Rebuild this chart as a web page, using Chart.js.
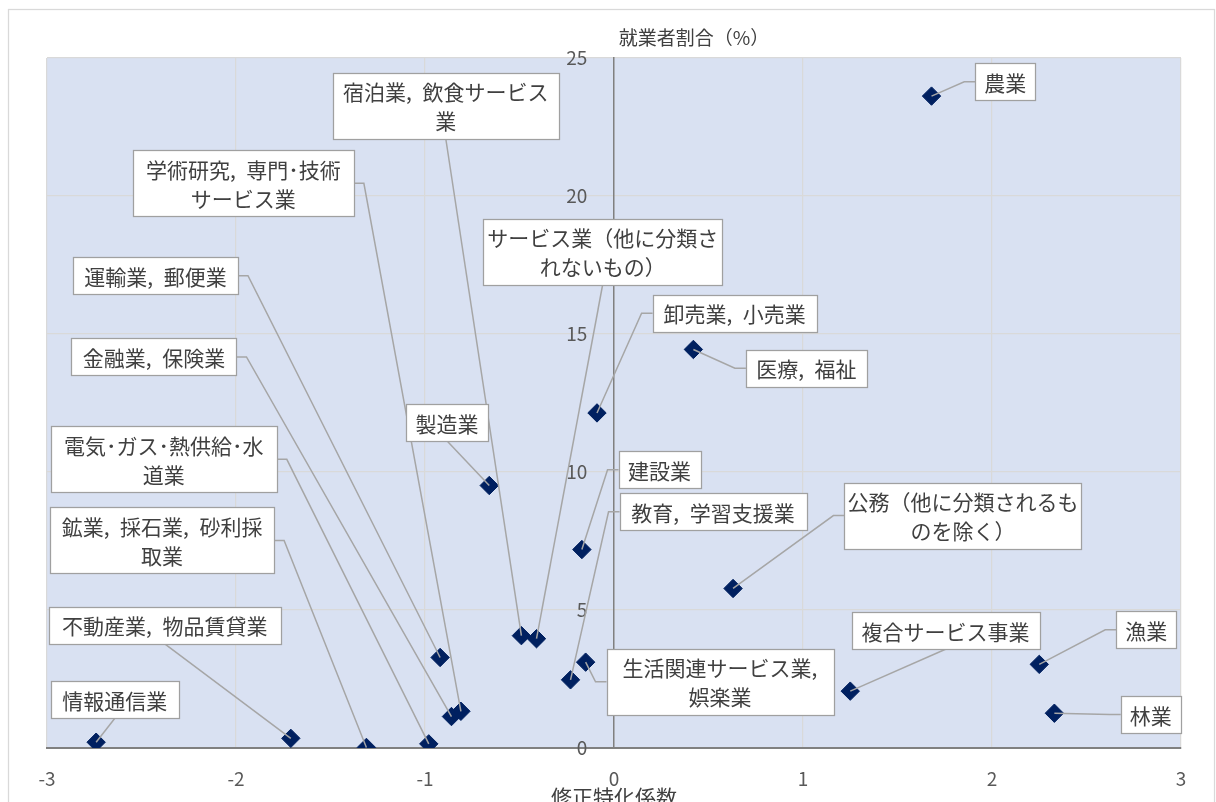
<!DOCTYPE html>
<html lang="ja">
<head>
<meta charset="utf-8">
<title>修正特化係数と就業者割合</title>
<script src="https://cdn.jsdelivr.net/npm/chart.js@4"></script>
<style>
  html, body { margin: 0; padding: 0; background: #fff; overflow: hidden; }
  canvas { display: block; }
</style>
</head>
<body>
<canvas id="chart" width="1216" height="808"></canvas>
<script>
// 産業別：修正特化係数（横軸）と就業者割合（縦軸, %）
const industries = [
  '農業',
  '林業',
  '漁業',
  '鉱業, 採石業, 砂利採取業',
  '建設業',
  '製造業',
  '電気･ガス･熱供給･水道業',
  '情報通信業',
  '運輸業, 郵便業',
  '卸売業, 小売業',
  '金融業, 保険業',
  '不動産業, 物品賃貸業',
  '学術研究, 専門･技術サービス業',
  '宿泊業, 飲食サービス業',
  '生活関連サービス業, 娯楽業',
  '教育, 学習支援業',
  '医療, 福祉',
  '複合サービス事業',
  'サービス業（他に分類されないもの）',
  '公務（他に分類されるものを除く）'
];
const specializationCoeff = [
  1.68, 2.33, 2.25, -1.31, -0.17, -0.66, -0.98, -2.74, -0.92, -0.09,
  -0.86, -1.71, -0.81, -0.49, -0.15, -0.23, 0.42, 1.25, -0.41, 0.63
];
const employmentShare = [
  23.62, 1.26, 3.03, 0.02, 7.19, 9.51, 0.15, 0.21, 3.28, 12.14,
  1.14, 0.35, 1.33, 4.07, 3.11, 2.47, 14.44, 2.06, 3.96, 5.78
];
const xTickValues = [-3, -2, -1, 0, 1, 2, 3];
const yTickValues = [0, 5, 10, 15, 20, 25];

// Callout boxes: centre in axis units, box width in px, side the leader leaves from,
// and where the name wraps onto a second line (0 = single line).
const calloutLayout = [
  { at: [2.07, 24.14],  w: 60,  side: 'left',   br: 0 },
  { at: [2.84, 1.21],   w: 60,  side: 'left',   br: 0 },
  { at: [2.816, 4.28],  w: 60,  side: 'left',   br: 0 },
  { at: [-2.391, 7.52], w: 224, side: 'right',  br: 12 },
  { at: [0.241, 10.08], w: 82,  side: 'left',   br: 0 },
  { at: [-0.883, 11.79],w: 82,  side: 'bottom', br: 0 },
  { at: [-2.382, 10.46],w: 226, side: 'right',  br: 11 },
  { at: [-2.641, 1.75], w: 128, side: 'bottom', br: 0 },
  { at: [-2.426, 17.11],w: 165, side: 'right',  br: 0 },
  { at: [0.638, 15.75], w: 164, side: 'left',   br: 0 },
  { at: [-2.434, 14.17],w: 165, side: 'right',  br: 0 },
  { at: [-2.377, 4.44], w: 232, side: 'bottom', br: 0 },
  { at: [-1.961, 20.46],w: 221, side: 'right',  br: 11 },
  { at: [-0.890, 23.27],w: 226, side: 'bottom', br: 11 },
  { at: [0.561, 2.40],  w: 227, side: 'left',   br: 10 },
  { at: [0.524, 8.56],  w: 187, side: 'left',   br: 0 },
  { at: [1.018, 13.76], w: 121, side: 'left',   br: 0 },
  { at: [1.754, 4.25],  w: 188, side: 'bottom', br: 0 },
  { at: [-0.060, 17.98],w: 239, side: 'bottom', br: 11 },
  { at: [1.846, 8.42],  w: 237, side: 'left',   br: 11 }
];

const JP = '"Noto Sans CJK JP", "Noto Sans", sans-serif';
const TEXT = '#404040';
const TICK = '#595959';
const GRID = '#D9D9D9';
const AXIS = '#808080';

// Chart frame and pale-blue plot area
const plotFrame = {
  id: 'plotFrame',
  beforeDraw(chart) {
    const { ctx, chartArea: a } = chart;
    ctx.save();
    ctx.fillStyle = '#fff';
    ctx.fillRect(0, 0, chart.width, chart.height);
    ctx.strokeStyle = GRID;
    ctx.lineWidth = 1.25;
    ctx.strokeRect(8.5, 9.5, 1206, chart.height + 20);
    ctx.fillStyle = '#D9E1F2';
    ctx.fillRect(a.left, a.top, a.right - a.left, a.bottom - a.top);
    ctx.restore();
  },
  afterDraw(chart) {
    // vertical axis caption, sitting above the y axis line at x = 0
    const { ctx, chartArea: a, scales: { x } } = chart;
    ctx.save();
    ctx.font = `19px ${JP}`;
    ctx.fillStyle = TEXT;
    ctx.textAlign = 'center';
    ctx.textBaseline = 'middle';
    ctx.fillText('就業者割合（%）', x.getPixelForValue(0) + 80, a.top - 20);
    ctx.restore();
  }
};

// Boxed industry names with leader lines to their markers
const callouts = {
  id: 'callouts',
  afterDatasetsDraw(chart) {
    const { ctx, scales: { x, y } } = chart;
    const pts = chart.getDatasetMeta(0).data;
    const LH = 29;
    const boxes = calloutLayout.map((L, i) => {
      const name = industries[i];
      const lines = (L.br ? [name.slice(0, L.br), name.slice(L.br).trim()] : [name])
        .map(s => s.replace(/, /g, ',\u2002'));
      return {
        cx: x.getPixelForValue(L.at[0]),
        cy: y.getPixelForValue(L.at[1]),
        w: L.w,
        h: lines.length * LH + 8,
        lines,
        side: L.side
      };
    });
    ctx.save();
    ctx.strokeStyle = '#A6A6A6';
    ctx.lineWidth = 1.5;
    boxes.forEach((b, i) => {
      const p = pts[i];
      ctx.beginPath();
      if (b.side === 'left') {
        const ex = b.cx - b.w / 2;
        ctx.moveTo(ex, b.cy);
        ctx.lineTo(ex - 11, b.cy);
      } else if (b.side === 'right') {
        const ex = b.cx + b.w / 2;
        ctx.moveTo(ex, b.cy);
        ctx.lineTo(ex + 10, b.cy);
      } else {
        ctx.moveTo(b.cx, b.cy + b.h / 2);
      }
      ctx.lineTo(p.x, p.y);
      ctx.stroke();
    });
    ctx.font = `21px ${JP}`;
    ctx.textAlign = 'center';
    ctx.textBaseline = 'middle';
    boxes.forEach(b => {
      const l = Math.round(b.cx - b.w / 2) + 0.5;
      const t = Math.round(b.cy - b.h / 2) + 0.5;
      ctx.fillStyle = '#fff';
      ctx.fillRect(l, t, b.w, b.h);
      ctx.strokeStyle = '#A0A0A0';
      ctx.lineWidth = 1.25;
      ctx.strokeRect(l, t, b.w, b.h);
      ctx.fillStyle = TEXT;
      b.lines.forEach((s, k) => {
        ctx.fillText(s, b.cx, b.cy + (k - (b.lines.length - 1) / 2) * LH + 1);
      });
    });
    ctx.restore();
  }
};

new Chart(document.getElementById('chart'), {
  type: 'scatter',
  data: {
    datasets: [{
      label: '就業者割合',
      data: industries.map((_, i) => ({ x: specializationCoeff[i], y: employmentShare[i] })),
      pointStyle: 'rectRot',
      radius: 9.2,
      hoverRadius: 9.2,
      backgroundColor: '#002060',
      borderColor: '#002060',
      borderWidth: 1
    }]
  },
  options: {
    responsive: false,
    animation: false,
    events: [],
    layout: { padding: { left: 47, right: 35, top: 58, bottom: 0 } },
    plugins: { legend: { display: false }, tooltip: { enabled: false } },
    scales: {
      x: {
        type: 'linear',
        min: -3, max: 3,
        afterBuildTicks: s => { s.ticks = xTickValues.map(v => ({ value: v })); },
        ticks: { color: TICK, font: { family: JP, size: 19, lineHeight: 1 }, padding: 21, maxRotation: 0 },
        grid: { color: GRID, lineWidth: 1.25, drawTicks: false },
        border: { display: true, color: AXIS, width: 2 },
        title: {
          display: true,
          text: '修正特化係数',
          color: TEXT,
          font: { family: JP, size: 21, lineHeight: 1 },
          padding: { top: -22, bottom: 0 }
        }
      },
      y: {
        type: 'linear',
        position: { x: 0 },
        min: 0, max: 25,
        afterBuildTicks: s => { s.ticks = yTickValues.map(v => ({ value: v })); },
        ticks: { display: false },
        grid: { color: GRID, lineWidth: 1.25, drawTicks: false },
        border: { display: true, color: AXIS, width: 1.5 }
      },
      yLabels: {
        type: 'linear',
        axis: 'y',
        position: { x: -0.141 },
        min: 0, max: 25,
        afterBuildTicks: s => { s.ticks = yTickValues.map(v => ({ value: v })); },
        ticks: { color: TICK, font: { family: JP, size: 19, lineHeight: 1 }, padding: 0 },
        grid: { display: false, drawTicks: false },
        border: { display: false }
      }
    }
  },
  plugins: [plotFrame, callouts]
});
</script>
</body>
</html>
